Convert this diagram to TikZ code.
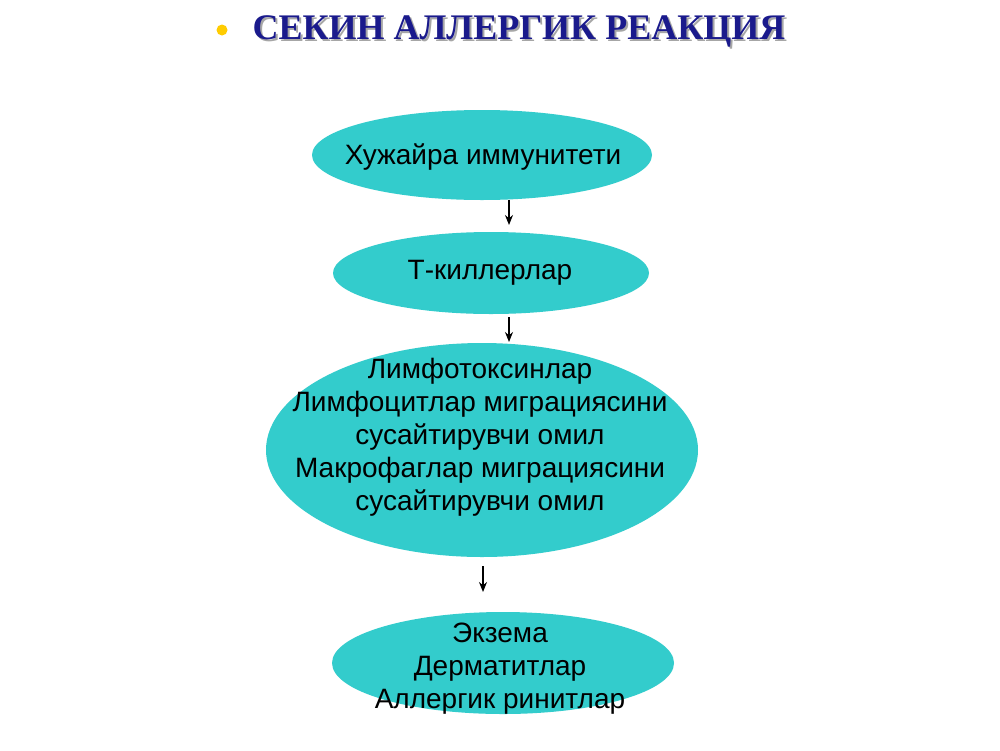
\documentclass[tikz,border=0pt]{standalone}
\usepackage{fontspec}
\setmainfont{Liberation Sans}
\newfontfamily\titlefont{Liberation Serif}
\usepackage{tikz}
\usetikzlibrary{shapes.geometric, arrows.meta}

\definecolor{tealfill}{HTML}{33CCCC}
\definecolor{titleblue}{HTML}{1A1A8C}
\definecolor{bulletgold}{HTML}{FFCC00}
\newcommand{\shadowtext}[1]{\makebox[0pt][l]{\hspace{2pt}\raisebox{-2pt}{\textcolor{gray!70}{#1}}}#1}

\begin{document}
\begin{tikzpicture}[x=1pt, y=-1pt,
    blob/.style={ellipse, fill=tealfill, inner sep=0pt},
    lbl/.style={align=center, inner sep=0pt, font=\fontsize{28}{33}\selectfont},
    arr/.style={-{Stealth[length=10pt, width=8pt]}, line width=1.3pt}]
      \useasboundingbox[fill=white] (0, 0) rectangle (1000, 750);
      % title
      \fill[bulletgold] (222, 30) circle (5.5);
      \node[text=titleblue, font=\titlefont\bfseries\fontsize{36}{40}\selectfont] (title) at (519, 32) {\shadowtext{СЕКИН АЛЛЕРГИК РЕАКЦИЯ}};
      % ellipses
      \node[blob, minimum width=340, minimum height=90] (e1) at (482, 155) {};
      \node[blob, minimum width=316, minimum height=82] (e2) at (491, 273) {};
      \node[blob, minimum width=432, minimum height=214] (e3) at (482, 450) {};
      \node[blob, minimum width=342, minimum height=102] (e4) at (503, 663) {};
      % texts
      \node[lbl] (t1) at (483, 157) {Хужайра иммунитети};
      \node[lbl] (t2) at (490, 273) {Т-киллерлар};
      \node[lbl] (t3) at (480, 437) {Лимфотоксинлар\\Лимфоцитлар миграциясини\\сусайтирувчи омил\\Макрофаглар миграциясини\\сусайтирувчи омил};
      \node[lbl] (t4) at (500, 669) {Экзема\\Дерматитлар\\Аллергик ринитлар};
      % arrows
      \coordinate (a1) at (509, 200);
      \coordinate (b1) at (509, 225);
      \coordinate (a2) at (509, 317);
      \coordinate (b2) at (509, 342);
      \coordinate (a3) at (483, 566);
      \coordinate (b3) at (483, 592);
      \draw[arr] (a1) -- (b1);
      \draw[arr] (a2) -- (b2);
      \draw[arr] (a3) -- (b3);
    \end{tikzpicture}
\end{document}
